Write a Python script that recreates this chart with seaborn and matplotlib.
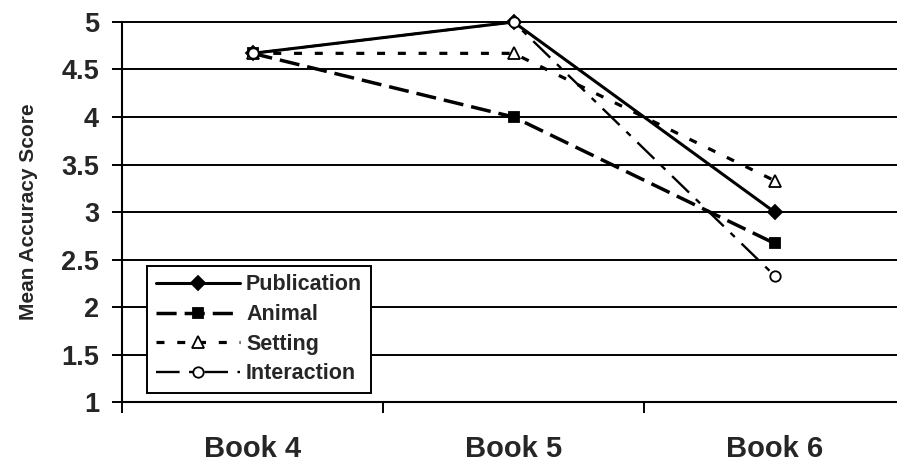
import matplotlib
matplotlib.use("Agg")
import matplotlib.pyplot as plt
import seaborn as sns
import pandas as pd
import numpy as np
from matplotlib.ticker import FixedLocator

books = ["Book 4", "Book 5", "Book 6"]
publication = [4.67, 5.0, 3.0]
animal = [4.67, 4.0, 2.67]
setting = [4.67, 4.67, 3.33]
interaction = [4.67, 5.0, 2.33]

series = {"Publication": publication, "Animal": animal,
          "Setting": setting, "Interaction": interaction}
rows = []
for name, vals in series.items():
    for i, (b, v) in enumerate(zip(books, vals)):
        rows.append({"series": name, "book": b, "x": i, "score": v})
df = pd.DataFrame(rows)

sns.set_style("white")
plt.rcParams['font.family'] = ['Liberation Sans', 'DejaVu Sans']

fig = plt.figure(figsize=(8.97, 4.66), dpi=100)
ax = fig.add_axes([0.136, 0.1373, 0.873, 0.8155])

styles = {
    "Publication": dict(marker="D", mfc="black", dashes=None, lw=2.2, ms=7.5),
    "Animal": dict(marker="s", mfc="black", dashes=(5.8, 2.3), lw=2.5, ms=7.5),
    "Setting": dict(marker="^", mfc="white", dashes=(2.5, 4.0), lw=2.3, ms=9),
    "Interaction": dict(marker="o", mfc="white", dashes=(10, 4, 2.5, 4), lw=1.7, ms=7.5),
}
for name in ["Publication", "Animal", "Setting", "Interaction"]:
    st = styles[name]
    sub = df[df.series == name]
    line_kws = dict(color="black", linewidth=st["lw"], marker=st["marker"],
                    markerfacecolor=st["mfc"], markeredgecolor="black",
                    markersize=st["ms"], markeredgewidth=1.3)
    sns.lineplot(data=sub, x="x", y="score", ax=ax, label=name, **line_kws)
    ln = ax.lines[-1]
    ln.set_clip_on(False)
    if st["dashes"] is not None:
        ln.set_dashes(st["dashes"])

ax.set_xlim(-0.5, 2.5)
ax.set_ylim(1, 5)
ax.set_yticks(np.arange(1, 5.01, 0.5))
ax.set_yticklabels(["1", "1.5", "2", "2.5", "3", "3.5", "4", "4.5", "5"])
for y in np.arange(1.5, 5.01, 0.5):
    ax.axhline(y, color="black", lw=1.4, zorder=0, clip_on=False)

ax.set_xticks([0, 1, 2])
ax.set_xticklabels(books)
ax.xaxis.set_minor_locator(FixedLocator([-0.5, 0.5, 1.5]))
ax.tick_params(axis="x", which="major", length=0, pad=24, labelsize=21)
ax.tick_params(axis="x", which="minor", length=8, width=1.4, direction="out", color="black", bottom=True)
ax.tick_params(axis="y", length=7.5, width=1.4, direction="out", color="black", left=True, labelsize=19.5, pad=9)
for lab in ax.get_xticklabels() + ax.get_yticklabels():
    lab.set_fontweight("bold")

ax.set_xlabel("")
ax.set_ylabel("Mean Accuracy Score", fontsize=15, fontweight="bold", labelpad=17)

for s in ["top", "right"]:
    ax.spines[s].set_visible(False)
for s in ["left", "bottom"]:
    ax.spines[s].set_color("black")
    ax.spines[s].set_linewidth(1.5)

handles, labels = ax.get_legend_handles_labels()
order = ["Publication", "Animal", "Setting", "Interaction"]
hmap = dict(zip(labels, handles))
leg = ax.legend([hmap[o] for o in order], order, loc="lower left",
                bbox_to_anchor=(0.032, 0.024), frameon=True, fancybox=False,
                edgecolor="black", framealpha=1, handlelength=3.9,
                borderpad=0.4, borderaxespad=0, labelspacing=0.4, handletextpad=0.3,
                prop={"weight": "bold", "size": 15.5})
leg.get_frame().set_linewidth(1.4)

fig.savefig("out.png", dpi=100)
